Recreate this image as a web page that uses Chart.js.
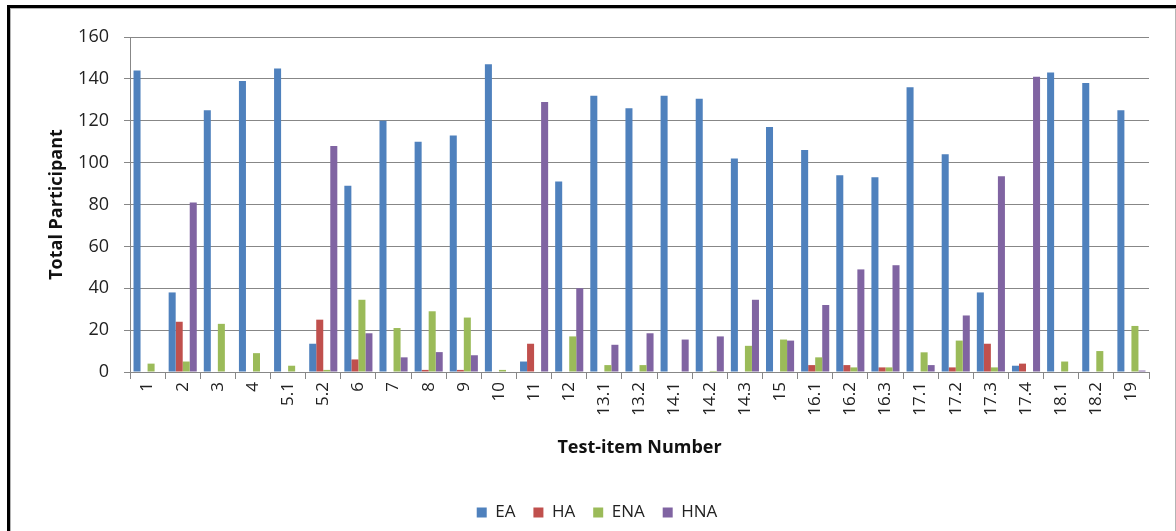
<!DOCTYPE html>
<html>
<head>
<meta charset="utf-8">
<script src="https://cdn.jsdelivr.net/npm/chart.js@4/dist/chart.umd.min.js"></script>
<style>
  html, body { margin: 0; padding: 0; background: #fff; width: 1176px; height: 531px; overflow: hidden; }
  .frame { position: absolute; left: 7px; top: 5px; right: 0; bottom: -10px;
           border-top: 3px solid #000; border-left: 3px solid #000; }
  .inner { position: absolute; left: 10px; top: 8px; width: 1164px; height: 540px;
           border: 1px solid #b4b4b4; border-bottom: none; }
  #chart { position: absolute; left: 0; top: 0; }
</style>
</head>
<body>
<div class="frame"></div>
<div class="inner"></div>
<canvas id="chart" width="1176" height="531"></canvas>
<script>
// items tested
const labels = ["1", "2", "3", "4", "5.1", "5.2", "6", "7", "8", "9", "10", "11", "12",
  "13.1", "13.2", "14.1", "14.2", "14.3", "15", "16.1", "16.2", "16.3",
  "17.1", "17.2", "17.3", "17.4", "18.1", "18.2", "19"];

// values
const ea  = [144, 38, 125, 139, 145, 13.5, 89, 120, 110, 113, 147, 5, 91, 132, 126, 132, 130.5, 102, 117, 106, 94, 93, 136, 104, 38, 3, 143, 138, 125];
const ha  = [0, 24, 0, 0, 0, 25, 6, 0, 1, 1, 0, 13.5, 0, 0, 0, 0, 0, 0, 0, 3.3, 3.3, 2.2, 0, 2.2, 13.5, 4, 0, 0, 0];
const ena = [4, 5, 23, 9, 3, 1, 34.5, 21, 29, 26, 1, 0, 17, 3.3, 3.3, 0, 0.5, 12.5, 15.5, 7, 2.2, 2.2, 9.4, 15, 2.2, 0, 5, 10, 22];
const hna = [0, 81, 0, 0, 0, 108, 18.5, 7, 9.5, 8, 0, 129, 40, 13, 18.5, 15.5, 17, 34.5, 15, 32, 49, 51, 3.3, 27, 93.5, 141, 0, 0, 0.7];

const yTicks = [0, 20, 40, 60, 80, 100, 120, 140, 160];

const COLORS = {
  EA: "#4f81bd",
  HA: "#c0504d",
  ENA: "#9bbb59",
  HNA: "#8064a2"
};

const GRID = "#878787";
const FONT = "'Open Sans', 'Liberation Sans', sans-serif";

const mk = (label, data) => ({
  label,
  data,
  backgroundColor: COLORS[label],
  borderWidth: 0,
  categoryPercentage: 0.8,
  barPercentage: 1.0
});

new Chart(document.getElementById("chart"), {
  type: "bar",
  data: {
    labels,
    datasets: [mk("EA", ea), mk("HA", ha), mk("ENA", ena), mk("HNA", hna)]
  },
  options: {
    responsive: false,
    animation: false,
    events: [],
    layout: { padding: { left: 45, right: 27, top: 37, bottom: 0 } },
    plugins: {
      legend: {
        position: "bottom",
        labels: {
          boxWidth: 10,
          boxHeight: 10,
          padding: 18,
          color: "#222",
          font: { family: FONT, size: 17 }
        }
      },
      tooltip: { enabled: false }
    },
    scales: {
      x: {
        grid: {
          display: true,
          drawOnChartArea: false,
          drawTicks: true,
          tickLength: 7,
          color: GRID,
          offset: true
        },
        border: { color: GRID },
        ticks: {
          autoSkip: false,
          minRotation: 90,
          maxRotation: 90,
          padding: 3,
          color: "#222",
          font: { family: FONT, size: 17 }
        },
        title: {
          display: true,
          text: "Test-item Number",
          color: "#111",
          padding: { top: 0, bottom: 27 },
          font: { family: FONT, size: 18, weight: "bold" }
        },
        afterFit: (scale) => { scale.height = 114; }
      },
      y: {
        min: 0,
        max: 160,
        afterBuildTicks: (scale) => {
          scale.ticks = yTicks.map(v => ({ value: v }));
        },
        grid: {
          color: GRID,
          drawTicks: true,
          tickLength: 6
        },
        border: { color: GRID },
        ticks: {
          padding: 15,
          color: "#222",
          font: { family: FONT, size: 18 }
        },
        title: {
          display: true,
          text: "Total Participant",
          color: "#111",
          padding: { top: 1, bottom: 0 },
          font: { family: FONT, size: 18, weight: "bold" }
        },
        afterFit: (scale) => { scale.width = 85; }
      }
    }
  }
});
</script>
</body>
</html>
